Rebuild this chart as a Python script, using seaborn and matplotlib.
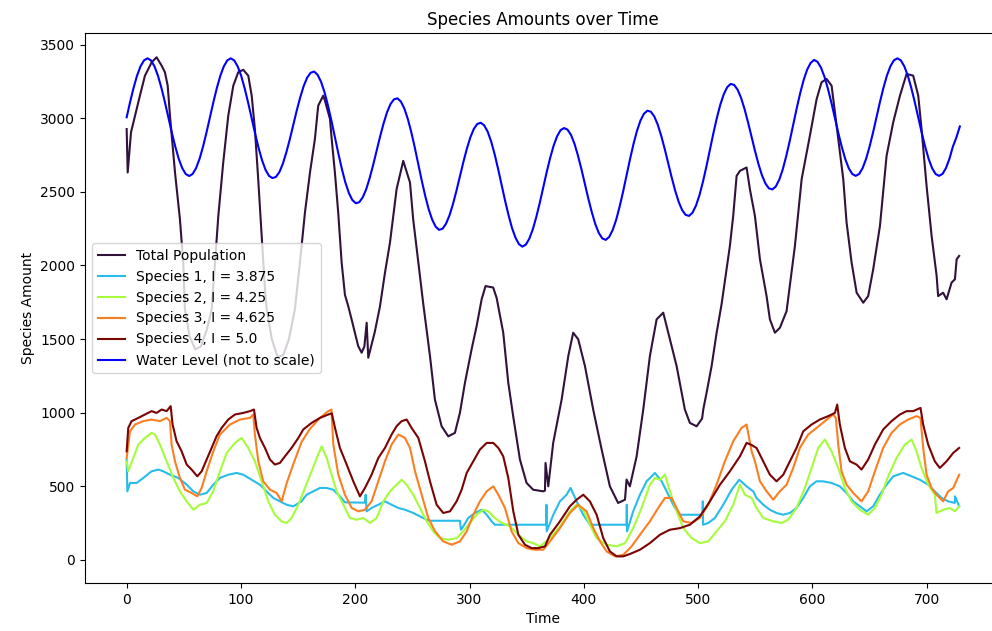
import numpy as np
import pandas as pd
import matplotlib
matplotlib.use("Agg")
import matplotlib.pyplot as plt
import seaborn as sns

# ---------------- data ----------------
total_population = [(0,2927),(0.9,2632),(2.3,2768),(3.8,2905),(7.3,3018),(11.6,3154),(16,3290),(21.9,3381),(26.2,3415),(30.6,3358),(33.5,3313),(35.9,3222),(37.9,3018),(42.3,2632),(46.6,2315),(49.5,2020),(51,1702),(55,1520),(60,1430),(65,1450),(70,1560),(74.4,1702),(77.3,2020),(80.2,2337),(84.5,2700),(88.9,3018),(93.3,3222),(97.6,3313),(102,3330),(106.4,3290),(109.4,3154),(112.2,2927),(115.1,2587),(118.1,2201),(121,1838),(122.5,1702),(127,1500),(132,1380),(137,1390),(142,1500),(147.2,1702),(151.6,2020),(156,2360),(160.4,2632),(164.7,2859),(167.6,3086),(172,3154),(173.5,3120),(177.9,2995),(179.4,2859),(182.2,2632),(185.1,2360),(188.1,2020),(191,1800),(194,1720),(196.8,1634),(202.6,1452),(205.6,1407),(208,1450),(210,1611),(211.4,1373),(217,1545),(221.6,1720),(226,1950),(230.4,2156),(236.2,2519),(242,2711),(247.9,2564),(250.7,2314),(256.6,1929),(259.5,1740),(265.4,1384),(269.7,1089),(275.6,907),(281.4,839),(287.2,862),(291.6,999),(296,1203),(301.8,1430),(306.2,1588),(310.6,1770),(314,1860),(320.7,1850),(323.7,1780),(329.5,1543),(333.9,1203),(338.2,975),(344.1,681),(349.9,522),(355.7,476),(364.5,465),(366,470),(366.5,658),(368.9,499),(373.2,794),(380.6,1089),(386.4,1384),(390.7,1543),(395.1,1498),(401,1316),(408.2,1021),(415.6,749),(422.8,499),(430,386),(436,408),(437.4,545),(440.3,499),(446.2,703),(452,1021),(457.8,1384),(463.7,1634),(469.5,1679),(475.3,1498),(481.2,1316),(488.4,1021),(492.8,930),(498.7,907),(503.5,960),(504.5,1021),(507.4,1135),(511.8,1316),(516.2,1543),(520.6,1740),(527.8,2133),(530.7,2337),(533.7,2609),(536.6,2643),(542.4,2666),(545.3,2519),(549.7,2337),(554.1,2042),(559.9,1792),(562.8,1634),(567.2,1543),(571.6,1577),(577.4,1690),(584.7,2133),(590.6,2587),(597.8,2882),(603.7,3131),(608,3245),(612.4,3268),(616.8,3222),(619.7,3041),(622.6,2859),(627,2587),(629.9,2292),(634.3,2020),(638.7,1815),(644.5,1747),(648.8,1792),(653.2,1974),(659.1,2269),(664.9,2745),(670.7,2973),(676.6,3154),(682.4,3302),(688.2,3290),(692.6,3154),(695.5,2927),(699.9,2541),(704.3,2201),(708.7,1929),(710,1792),(714.4,1815),(717.4,1770),(721.8,1884),(724.7,1906),(726.2,2042),(728.4,2065)]

species_1 = [(0,681),(0.6,465),(2.9,522),(8.7,522),(14.6,556),(21.8,601),(27.7,613),(32,601),(37.9,578),(45.2,556),(52.5,510),(58.3,465),(64.1,442),(70,454),(75.8,510),(81.6,556),(88.9,578),(96.2,590),(102,578),(109.3,544),(116.6,510),(122.4,465),(128.3,420),(134.1,397),(140,374),(145.8,363),(153,397),(157.4,442),(163.3,465),(169.1,488),(174.9,488),(180.8,476),(186.6,431),(191,390),(208.5,388),(209.1,442),(210,329),(214.3,352),(220.2,374),(226,397),(231.8,374),(237.7,352),(243.5,340),(250.8,318),(256.6,295),(262.5,272),(265.4,265),(291.6,265),(292.5,204),(294.5,227),(298.9,284),(304.7,318),(310.6,340),(315,306),(319.3,261),(322.2,238),(367.1,238),(367.3,374),(367.5,193),(373.3,306),(379.1,397),(384.9,442),(388.4,488),(393.7,397),(399.5,306),(405.3,238),(437.4,238),(437.6,374),(437.8,193),(443.2,329),(449.1,442),(454.9,533),(462.2,590),(468.1,533),(473.9,442),(479.7,352),(484.1,306),(503.9,306),(504.1,397),(504.3,238),(508.9,250),(514.7,284),(522,374),(529.3,476),(536,544),(542.4,499),(548.2,465),(551.1,420),(557,374),(562.8,340),(568.6,318),(574.5,306),(580.3,318),(586.1,352),(592,420),(597.8,499),(603.6,533),(609.4,533),(616.7,522),(624,499),(629.9,454),(635.7,397),(641.5,363),(647.4,329),(653.2,363),(659,442),(664.9,510),(670.7,567),(679.4,590),(686.8,567),(694,544),(701.3,510),(707.1,465),(713,420),(718.8,397),(724.6,386),(724.8,431),(728.4,363)]

species_2 = [(0,669),(1.4,601),(5.8,692),(10.2,783),(16,828),(21.8,862),(24.8,851),(29.1,783),(35,669),(40.8,556),(46.6,465),(52.5,397),(58.3,340),(64.1,374),(70,386),(75.8,465),(81.6,601),(87.5,726),(94.7,794),(100.6,828),(106.4,760),(112.2,669),(118.1,533),(123.9,397),(129.7,306),(135.6,261),(140,250),(144.3,284),(150.2,374),(156,488),(161.8,601),(167.6,715),(170.6,771),(175,692),(179.3,578),(183.7,465),(189.6,374),(195.4,284),(201.2,272),(207,284),(212.9,250),(218.7,284),(224.6,397),(230.4,465),(236.2,510),(240.6,544),(245,510),(250.8,442),(256.6,352),(262.5,261),(268.3,193),(274.1,147),(281.4,136),(288.7,147),(294.5,193),(300.4,250),(306.2,306),(312,340),(316.4,329),(322.2,284),(328.1,250),(335.4,227),(342.7,170),(350,125),(355.8,113),(361.6,91),(370.4,147),(379.1,227),(387.8,329),(393.7,374),(399.5,340),(405.3,238),(411.2,147),(419.9,102),(428.7,91),(436,113),(443.2,215),(450.5,352),(457.8,510),(462.2,556),(466.6,544),(471,578),(475.3,465),(481.2,329),(487,215),(494.3,147),(501.6,113),(508.9,125),(516.1,193),(523.4,261),(530.7,374),(536.6,510),(541,442),(546.8,420),(551.1,352),(557,284),(565.7,261),(573,250),(578.8,272),(586.1,352),(593.4,488),(599.3,624),(605.1,760),(610.9,817),(616.7,737),(622.6,624),(628.4,488),(634.2,397),(641.5,340),(648.8,306),(654.7,352),(660.5,442),(666.3,567),(673.6,692),(680.9,783),(686.8,817),(691.1,737),(695.5,624),(701.3,510),(707.1,442),(708.6,318),(714.4,340),(720.2,352),(724.7,329),(728.4,363)]

species_3 = [(0,692),(2.9,873),(7.3,919),(14.5,942),(21.8,953),(29.1,942),(35,964),(37.9,942),(39.3,783),(42.3,669),(46.6,556),(51,476),(56.8,454),(61.8,431),(65.6,488),(70,601),(75.8,737),(81.6,851),(90.4,919),(99.1,953),(107.9,964),(110.8,987),(112.2,851),(115.2,669),(119.5,533),(125.4,476),(131.2,454),(135.6,397),(140,520),(145.8,650),(153,800),(160.4,890),(169.1,964),(176.4,1010),(179.2,1021),(180.8,783),(185.2,578),(191,442),(196.9,352),(202.7,329),(208.5,340),(214.3,397),(220.2,533),(226,669),(231.8,783),(237.7,851),(243.5,828),(247.9,760),(252.3,601),(258.1,442),(263.9,284),(269.8,193),(277,125),(284.3,102),(291.6,125),(297.5,193),(303.3,306),(309.1,397),(315,465),(320.8,499),(325.2,442),(331,352),(336.8,193),(342.7,113),(350,79),(357.2,68),(364.5,68),(370.4,125),(379.1,215),(387.8,318),(395.1,374),(402.4,329),(408.3,215),(414.1,125),(419.9,57),(427.2,23),(434.5,34),(441.8,91),(449.1,170),(457.8,261),(465.1,352),(471,420),(476.8,420),(481.2,352),(487,261),(494.3,250),(501.6,284),(508.9,374),(516.1,510),(523.4,669),(530.7,805),(538,896),(542.4,919),(546.8,737),(549.7,669),(554.1,533),(559.9,465),(565.7,408),(571.5,465),(577.4,510),(583.2,624),(589,760),(596.3,851),(603.6,896),(610.9,942),(618.2,987),(620.5,964),(622.6,783),(625.5,601),(629.9,510),(635.7,454),(643,397),(648.8,465),(654.7,601),(661.9,760),(669.2,862),(676.5,919),(683.8,953),(691.1,976),(694.6,964),(696.9,760),(699.9,578),(704.2,488),(708.6,442),(714.4,397),(718.8,465),(723.2,488),(728.4,578)]

species_4 = [(0,737),(1.4,896),(4.3,942),(10.2,964),(16,987),(21.8,1010),(26.2,998),(30.6,1021),(35,1010),(38.5,1044),(40.2,919),(43.7,805),(48.1,737),(52.5,647),(56.8,613),(61.8,567),(65.6,601),(70,681),(74.3,760),(78.7,840),(83.1,896),(88.9,953),(94.7,987),(102,998),(107.9,1010),(111.4,1021),(113.7,896),(116.6,828),(121,760),(125.4,681),(129.7,647),(134.1,658),(138.5,703),(144.3,760),(150.2,828),(154.5,885),(161.8,930),(169.1,964),(176.4,987),(179.5,995),(182.3,896),(186.6,760),(192.5,647),(198.3,533),(204.1,431),(208.5,488),(214.3,578),(220.2,692),(226,760),(231.8,851),(236.2,908),(240.6,942),(245,953),(249.3,896),(255.2,828),(261,669),(265.4,533),(271.2,374),(277,318),(282.9,329),(288.7,397),(293.1,476),(297.5,590),(303.3,669),(309.1,749),(315,794),(320.8,794),(325.2,760),(329.5,703),(333.9,556),(338.3,329),(342.7,170),(348.5,102),(354.3,79),(360.1,79),(366,91),(370.4,170),(379.1,261),(387.8,363),(393.7,408),(399.5,442),(405.3,397),(411.2,306),(417,147),(422.8,57),(428.7,23),(434.5,23),(440.3,39),(449.1,68),(457.8,113),(466.6,170),(475.3,204),(484.1,215),(492.8,238),(501.6,295),(510.3,397),(519.1,510),(527.8,601),(536.6,703),(542.4,794),(546,783),(551.1,760),(557,669),(562.8,578),(568.6,533),(574.5,578),(580.3,669),(586.1,760),(592,873),(599.3,919),(606.5,953),(613.8,976),(619.7,998),(621.7,1055),(624,919),(628.4,760),(632.8,669),(638.6,647),(643,613),(648.8,681),(654.7,783),(661.9,885),(669.2,942),(676.5,987),(682.4,1010),(688.2,1010),(694.6,1032),(696.9,919),(701.3,783),(707.1,669),(711.5,624),(717.4,669),(723.2,726),(728.4,760)]

water_days = np.linspace(0, 729, 241)
water_level = [
    3007,3112,3208,3291,3354,3394,3408,3394,3354,3291,3208,3112,3008,2904,2808,2725,2662,2622,2608,2622,2662,2725,2808,2904,
    3008,3112,3208,3291,3354,3394,3408,3393,3352,3288,3203,3106,3001,2896,2799,2715,2650,2609,2594,2602,2635,2692,2769,2858,
    2956,3054,3143,3220,3277,3310,3318,3296,3248,3177,3086,2982,2871,2759,2655,2564,2493,2445,2423,2430,2463,2518,2594,2683,
    2780,2876,2965,3041,3097,3129,3136,3114,3066,2995,2905,2801,2689,2577,2473,2382,2312,2264,2242,2250,2284,2341,2418,2508,
    2606,2704,2794,2871,2928,2962,2970,2952,2909,2842,2756,2656,2549,2441,2342,2255,2189,2145,2128,2142,2183,2246,2330,2426,
    2531,2635,2732,2815,2879,2920,2934,2923,2887,2827,2747,2654,2554,2453,2361,2281,2221,2184,2174,2194,2241,2310,2400,2502,
    2613,2723,2826,2915,2985,3031,3052,3045,3012,2956,2880,2791,2695,2598,2509,2433,2377,2344,2337,2359,2407,2478,2569,2673,
    2786,2898,3002,3093,3164,3212,3234,3227,3194,3138,3062,2972,2875,2778,2689,2613,2557,2524,2517,2537,2584,2654,2744,2846,
    2957,3067,3170,3260,3330,3376,3397,3384,3345,3283,3201,3106,3003,2900,2805,2723,2661,2622,2609,2622,2662,2725,2808,2904,
    3008,3112,3208,3291,3354,3394,3408,3394,3354,3291,3208,3112,3008,2904,2808,2725,2662,2622,2609,2622,2662,2725,2808,2870,
    2945]

labels = ["Total Population", "Species 1, I = 3.875", "Species 2, I = 4.25",
          "Species 3, I = 4.625", "Species 4, I = 5.0"]

# ---------------- plot ----------------
fig = plt.figure(figsize=(9.92, 6.31), dpi=100)
ax = fig.add_axes([85 / 992, 48 / 631, 916.5 / 992, 550 / 631])

colors = plt.cm.turbo(np.linspace(0, 1, 5))
series = [total_population, species_1, species_2, species_3, species_4]
for data, label, color in zip(series, labels, colors):
    df = pd.DataFrame(data, columns=["Time", "Amount"])
    sns.lineplot(data=df, x="Time", y="Amount", color=color, label=label,
                 ax=ax, sort=False, estimator=None, linewidth=1.5)

wdf = pd.DataFrame({"Time": water_days, "Amount": water_level})
sns.lineplot(data=wdf, x="Time", y="Amount", color="blue",
             label="Water Level (not to scale)", ax=ax, sort=False,
             estimator=None, linewidth=1.5)

ax.set_xlim(-36.45, 765.45)
ax.set_ylim(-158, 3580)
ax.set_title("Species Amounts over Time")
ax.set_xlabel("Time")
ax.set_ylabel("Species Amount")
ax.legend(loc="center left")

fig.savefig("out.png", dpi=100)
